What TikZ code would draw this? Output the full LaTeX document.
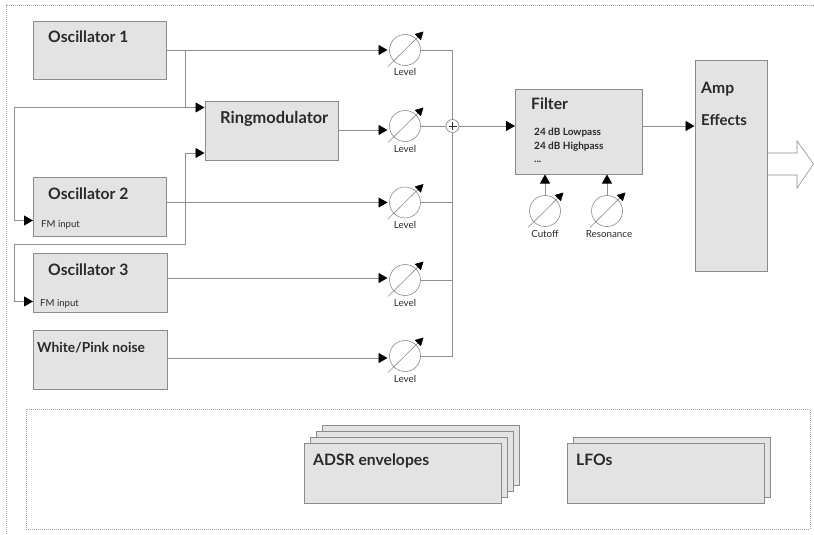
\documentclass[tikz,border=0pt]{standalone}
\usepackage{fontspec}
\setmainfont{Lato}
\usetikzlibrary{arrows.meta,fit,calc}
\definecolor{blkfill}{HTML}{E3E3E3}
\definecolor{blkline}{HTML}{8C8C8C}
\definecolor{wire}{HTML}{8E8E8E}
\definecolor{ink}{HTML}{2A2A2A}
\definecolor{dots}{HTML}{A0A0A0}
\tikzset{
  blk/.style={draw=blkline,fill=blkfill,line width=0.95pt,inner sep=0pt,outer sep=0pt},
  title/.style={anchor=base west,inner sep=0pt,text=ink,font=\bfseries\fontsize{15.7}{17}\selectfont},
  subtitle/.style={anchor=base west,inner sep=0pt,text=ink,font=\bfseries\fontsize{10}{12}\selectfont},
  small/.style={anchor=base west,inner sep=0pt,text=ink,font=\fontsize{9.6}{11}\selectfont},
  knoblabel/.style={anchor=base,inner sep=0pt,text=ink,font=\fontsize{9.8}{11}\selectfont},
  wired/.style={draw=wire,line width=0.85pt},
  arrowed/.style={wired,-{Triangle[length=9pt,width=10pt,color=black,fill=black]},shorten >=0.5pt},
  knob/.style={circle,draw=blkline,line width=0.6pt,minimum size=31pt,inner sep=0pt,outer sep=0pt},
  needle/.style={draw=blkline,line width=0.6pt,-{Triangle[length=8pt,width=8.5pt,color=black,fill=black]}},
  dotbox/.style={draw=dots,line width=0.7pt,dash pattern=on 1pt off 1pt},
}
\newcommand{\knobat}[5]{%
  \node[knob] (#1) at (#2,#3) {};
  \coordinate (#1s) at ($(#1)+(-17,16.5)$);
  \coordinate (#1t) at ($(#1)+(18.5,-18.5)$);
  \draw[needle] (#1s) -- (#1t);
  \node[knoblabel] (#1l) at ($(#1)+(#4,26)$) {#5};
}
\begin{document}
\begin{tikzpicture}[x=1pt,y=-1pt]
\useasboundingbox (0,0) rectangle (814,535);
% frames
\coordinate (ftl) at (6,5);
\coordinate (ftr) at (814,5);
\coordinate (fbl) at (6,535);
\draw[dotbox] (ftr) -- (ftl) -- (fbl);
\node[dotbox,inner sep=0pt,fit={(26,409) (810,529)}] (modframe) {};
% blocks
\node[blk,fit={(33.5,21) (166.5,79.5)}] (osc1) {};
\node[blk,fit={(33.5,177.5) (166.5,236)}] (osc2) {};
\node[blk,fit={(33.5,253.5) (167.5,312.5)}] (osc3) {};
\node[blk,fit={(33.5,330) (167.5,389)}] (noise) {};
\node[blk,fit={(205,101) (338,160)}] (ring) {};
\node[blk,fit={(515.5,89.5) (642.5,174)}] (filter) {};
\node[blk,fit={(695,60) (767,271)}] (amp) {};
\node[blk,fit={(322,425) (519.5,485)}] (adsr3) {};
\node[blk,fit={(316,431) (513.5,491)}] (adsr2) {};
\node[blk,fit={(310,437) (507.5,497)}] (adsr1) {};
\node[blk,fit={(304,443) (501.5,503)}] (adsr) {};
\node[blk,fit={(573.5,437) (770.5,497)}] (lfo1) {};
\node[blk,fit={(567.5,443) (764.5,503)}] (lfo) {};
% labels
\node[title] (t1) at (48,43) {Oscillator 1};
\node[title] (t2) at (48,199) {Oscillator 2};
\node[small] (f2) at (41,227) {FM input};
\node[title] (t3) at (48,275) {Oscillator 3};
\node[small] (f3) at (40,306) {FM input};
\node[title,font=\bfseries\fontsize{13.8}{16}\selectfont] (t4) at (37,352) {White/Pink noise};
\node[title,font=\bfseries\fontsize{16.4}{18}\selectfont] (t5) at (220,123) {Ringmodulator};
\node[title] (t6) at (531,109) {Filter};
\node[subtitle] (s1) at (534,135) {24 dB Lowpass};
\node[subtitle] (s2) at (534,149) {24 dB Highpass};
\node[subtitle] (s3) at (534,162) {...};
\node[title] (t7) at (701,93) {Amp};
\node[title,font=\bfseries\fontsize{15}{17}\selectfont] (t8) at (701,125) {Effects};
\node[title] (t9) at (313,465) {ADSR envelopes};
\node[title] (t10) at (576,465) {LFOs};
% knobs
\knobat{lv1}{405}{50}{0}{Level}
\knobat{lv2}{405}{126}{0}{Level}
\knobat{lv3}{405}{202.5}{0}{Level}
\knobat{lv4}{405}{280}{0}{Level}
\knobat{lv5}{405}{356}{0}{Level}
\knobat{cut}{545}{211}{0}{Cutoff}
\knobat{res}{607}{211}{2}{Resonance}
% summing point
\node[circle,draw=blkline,fill=white,line width=0.7pt,minimum size=13pt,inner sep=0pt,outer sep=0pt] (sum) at (452.5,126) {};
% connectors to levels
\coordinate (j1) at (185.5,50);
\coordinate (in1) at (388,50);
\coordinate (in2) at (388,130);
\coordinate (in3) at (388,202.5);
\coordinate (in4) at (388,278);
\coordinate (in5) at (388,358);
\draw[arrowed] (osc1.east |- in1) -- (in1);
\draw[arrowed] (ring.east |- in2) -- (in2);
\draw[arrowed] (osc2.east |- in3) -- (in3);
\draw[arrowed] (osc3.east |- in4) -- (in4);
\draw[arrowed] (noise.east |- in5) -- (in5);
% FM and ringmod routing
\coordinate (r1) at (185.5,107.5);
\coordinate (r2) at (185.5,153);
\coordinate (b1) at (14,107.5);
\coordinate (b2) at (14,220.5);
\coordinate (c1) at (185.5,244);
\coordinate (c2) at (14,244);
\coordinate (c3) at (14,301.5);
\draw[wired] (j1) -- (r1);
\draw[arrowed] (r1) -- (ring.west |- r1);
\draw[arrowed] (r1) -- (b1) -- (b2) -- (b2 -| osc2.west);
\draw[arrowed] (c1) -- (r2) -- (ring.west |- r2);
\draw[arrowed] (c1) -- (c2) -- (c3) -- (c3 -| osc3.west);
% summing bus
\coordinate (bustop) at (452.5,50);
\coordinate (busbot) at (452.5,356);
\draw[wired] (lv1.east) -- (bustop) -- (sum.north);
\draw[wired] (sum.south) -- (busbot) -- (lv5.east);
\draw[wired] (lv2.east) -- (sum.west);
\draw[wired] (lv3.east) -- (lv3.east -| sum);
\draw[wired] (lv4.east) -- (lv4.east -| sum);
\draw[draw=ink,line width=1pt] ($(sum)+(-4,0)$) -- ($(sum)+(4,0)$);
\draw[draw=ink,line width=1pt] ($(sum)+(0,-4)$) -- ($(sum)+(0,4)$);
\draw[arrowed] (sum.east) -- (sum.east -| filter.west);
\draw[arrowed] (filter.east |- sum) -- (sum -| amp.west);
\draw[arrowed] (cut.north) -- (cut.north |- filter.south);
\draw[arrowed] (res.north) -- (res.north |- filter.south);
% output arrow
\coordinate (o1) at (767,153);
\coordinate (o2) at (797,153);
\coordinate (o3) at (797,141);
\coordinate (o4) at (813.5,164);
\coordinate (o5) at (797,188);
\coordinate (o6) at (797,175);
\coordinate (o7) at (767,175);
\draw[draw=blkline,line width=0.6pt,line join=miter] (o1) -- (o2) -- (o3) -- (o4) -- (o5) -- (o6) -- (o7);
\end{tikzpicture}
\end{document}
